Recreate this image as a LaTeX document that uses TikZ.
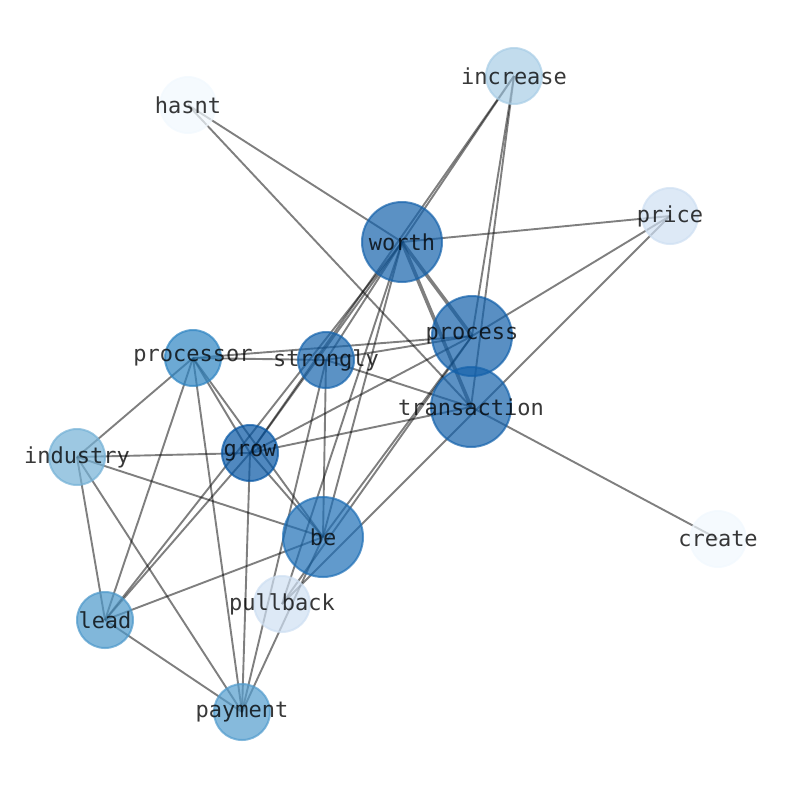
\documentclass[tikz,border=0pt]{standalone}
\usepackage{fontspec}
\setmonofont{DejaVu Sans Mono}
\usetikzlibrary{backgrounds}
\definecolor{cHasnt}{RGB}{241,248,254}
\definecolor{cCreate}{RGB}{241,248,254}
\definecolor{cPrice}{RGB}{206,223,242}
\definecolor{cPullback}{RGB}{206,223,242}
\definecolor{cIncrease}{RGB}{168,205,230}
\definecolor{cIndustry}{RGB}{116,177,214}
\definecolor{cPayment}{RGB}{82,156,205}
\definecolor{cLead}{RGB}{76,152,202}
\definecolor{cProcessor}{RGB}{46,132,194}
\definecolor{cBe}{RGB}{30,111,182}
\definecolor{cStrongly}{RGB}{22,100,173}
\definecolor{cWorth}{RGB}{21,98,171}
\definecolor{cProcess}{RGB}{18,96,170}
\definecolor{cTrans}{RGB}{21,98,171}
\definecolor{cGrow}{RGB}{6,86,164}
\tikzset{
  word/.style={circle, draw=#1, fill=#1, opacity=0.7, line width=2pt,
    inner sep=0pt, minimum size=56pt},
  bigword/.style={word=#1, minimum size=80pt},
  every label/.style={text opacity=0.78, font=\ttfamily\fontsize{22}{22}\selectfont},
  link/.style={draw=black, draw opacity=0.5, line width=1.9pt},
  heavy/.style={link, line width=3.6pt}
}
\begin{document}
\begin{tikzpicture}[x=1pt, y=-1pt, line cap=round]
\useasboundingbox (0,0) rectangle (794,790);
% words
\node[word=cIncrease, label=center:increase] (increase) at (514,76) {};
\node[word=cHasnt, label=center:hasnt] (hasnt) at (188,105) {};
\node[bigword=cWorth, label=center:worth] (worth) at (402,242) {};
\node[word=cPrice, label=center:price] (price) at (670,216) {};
\node[bigword=cProcess, label=center:process] (process) at (472,336) {};
\node[word=cProcessor, label=center:processor] (processor) at (193,358) {};
\node[word=cStrongly, label=center:strongly] (strongly) at (326,360) {};
\node[bigword=cTrans, label=center:transaction] (transaction) at (471,407) {};
\node[word=cIndustry, label=center:industry] (industry) at (77,457) {};
\node[word=cGrow, label=center:grow] (grow) at (250,453) {};
\node[bigword=cBe, label=center:be] (be) at (323,537) {};
\node[word=cCreate, label=center:create] (create) at (718,539) {};
\node[word=cPullback, label=center:pullback] (pullback) at (282,604) {};
\node[word=cLead, label=center:lead] (lead) at (105,620) {};
\node[word=cPayment, label=center:payment] (payment) at (242,712) {};
% links
\begin{scope}[on background layer]
\foreach \a/\b in {hasnt/worth, hasnt/transaction,
    increase/worth, increase/grow, increase/process, increase/transaction,
    price/worth, price/process, price/pullback,
    worth/strongly, worth/grow, worth/lead, worth/be, worth/pullback,
    process/processor, process/strongly, process/grow, process/be, process/pullback,
    transaction/create, transaction/strongly, transaction/grow,
    processor/strongly, processor/industry, processor/lead, processor/payment,
    processor/grow, processor/be,
    strongly/be, strongly/payment,
    industry/grow, industry/be, industry/lead, industry/payment,
    grow/lead, grow/be, grow/payment,
    lead/be, lead/payment, be/payment}
  \draw[link] (\a.center) -- (\b.center);
\draw[heavy] (worth.center) -- (process.center);
\draw[heavy] (worth.center) -- (transaction.center);
\end{scope}
\end{tikzpicture}
\end{document}
